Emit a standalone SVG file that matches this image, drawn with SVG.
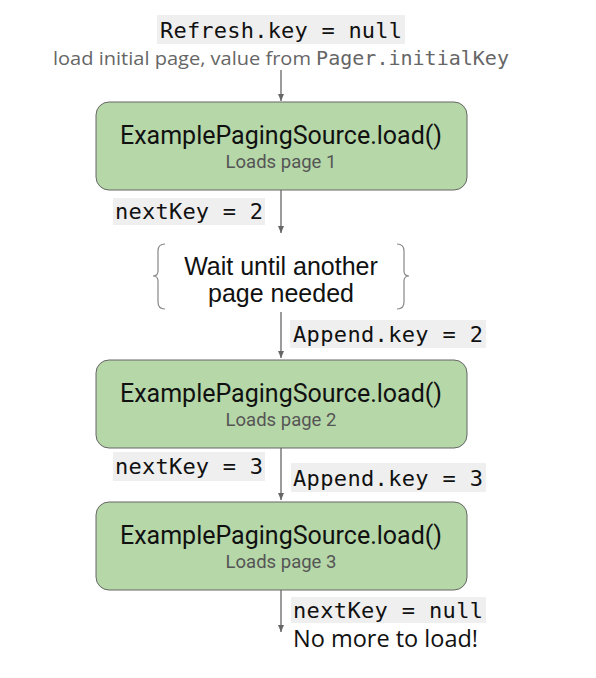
<svg xmlns="http://www.w3.org/2000/svg" width="596" height="678" viewBox="0 0 596 678">
<style>
.box{fill:#b6d7a8;stroke:#666;stroke-width:1}
.title{font-family:Roboto,"Liberation Sans",sans-serif;font-size:25px;fill:#111;text-anchor:middle}
.sub{font-family:Roboto,"Liberation Sans",sans-serif;font-size:18.5px;fill:#555;text-anchor:middle}
.mono{font-family:"DejaVu Sans Mono",monospace;font-size:22px;fill:#111}
.codebg{fill:#efefef}
.edge{stroke:#666;stroke-width:1.3;fill:none}
.brace{stroke:#888;stroke-width:1.2;fill:none}
.plain{font-family:"Liberation Sans",Arial,sans-serif;font-size:25px;fill:#111;text-anchor:middle}
</style>
<defs>
<marker id="ah" markerWidth="8" markerHeight="8" refX="7" refY="4" orient="auto" markerUnits="userSpaceOnUse">
<path d="M0,1 L7,4 L0,7 Z" fill="#666"/>
</marker>
</defs>
<rect width="596" height="678" fill="#fff"/>
<g id="connectors">
<line class="edge" x1="281" y1="70" x2="281" y2="101" marker-end="url(#ah)"/>
<line class="edge" x1="281" y1="190" x2="281" y2="233" marker-end="url(#ah)"/>
<line class="edge" x1="281" y1="312" x2="281" y2="358" marker-end="url(#ah)"/>
<line class="edge" x1="281" y1="448" x2="281" y2="500" marker-end="url(#ah)"/>
<line class="edge" x1="281" y1="590" x2="281" y2="632" marker-end="url(#ah)"/>
</g>
<g id="start-label">
<rect class="codebg" x="157" y="15" width="248" height="29"/>
<text class="mono" x="160" y="38" textLength="242">Refresh.key = null</text>
<text x="53" y="65" font-family="'Open Sans',sans-serif" font-size="19" fill="#666" textLength="456" lengthAdjust="spacingAndGlyphs">load initial page, value from <tspan font-family="'DejaVu Sans Mono',monospace">Pager.initialKey</tspan></text>
</g>
<g id="load1">
<rect class="box" x="96" y="102" width="371" height="88" rx="13"/>
<text class="title" x="281" y="144">ExamplePagingSource.load()</text>
<text class="sub" x="281" y="168">Loads page 1</text>
</g>
<g id="nextkey2">
<rect class="codebg" x="113" y="198" width="152" height="27"/>
<text class="mono" x="115" y="219" textLength="148">nextKey = 2</text>
</g>
<g id="wait">
<path class="brace" d="M165,244 Q158,244 158,251 L158,271 Q158,276 153,276 Q158,276 158,281 L158,302 Q158,309 165,309"/>
<path class="brace" d="M397,244 Q404,244 404,251 L404,271 Q404,276 409,276 Q404,276 404,281 L404,302 Q404,309 397,309"/>
<text class="plain" x="281" y="275">Wait until another</text>
<text class="plain" x="281" y="302">page needed</text>
</g>
<g id="append2">
<rect class="codebg" x="290" y="320" width="196" height="28"/>
<text class="mono" x="293" y="342" textLength="190">Append.key = 2</text>
</g>
<g id="load2">
<rect class="box" x="96" y="360" width="371" height="88" rx="13"/>
<text class="title" x="281" y="402">ExamplePagingSource.load()</text>
<text class="sub" x="281" y="426">Loads page 2</text>
</g>
<g id="nextkey3">
<rect class="codebg" x="113" y="452" width="152" height="29"/>
<text class="mono" x="115" y="474" textLength="148">nextKey = 3</text>
</g>
<g id="append3">
<rect class="codebg" x="291" y="463" width="195" height="29"/>
<text class="mono" x="293" y="486" textLength="190">Append.key = 3</text>
</g>
<g id="load3">
<rect class="box" x="96" y="502" width="371" height="88" rx="13"/>
<text class="title" x="281" y="544">ExamplePagingSource.load()</text>
<text class="sub" x="281" y="568">Loads page 3</text>
</g>
<g id="end-label">
<rect class="codebg" x="291" y="597" width="195" height="26"/>
<text class="mono" x="293" y="618" textLength="190">nextKey = null</text>
<text x="293" y="647" font-family="'Open Sans',sans-serif" font-size="23.5" fill="#111">No more to load!</text>
</g>
</svg>
